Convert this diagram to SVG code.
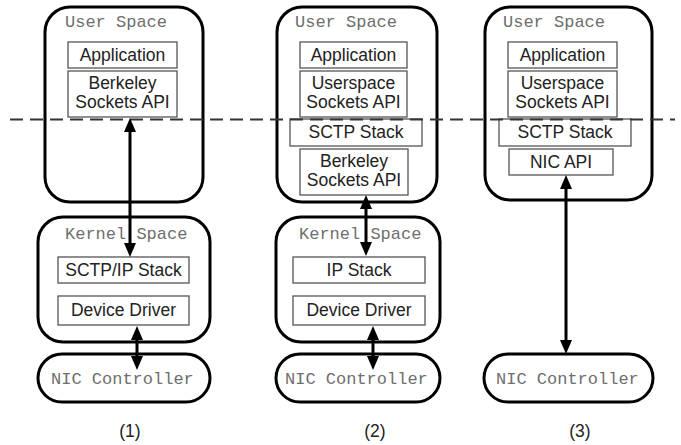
<svg xmlns="http://www.w3.org/2000/svg" width="681" height="445" viewBox="0 0 681 445">
<style>
.outer{fill:#fff;stroke:#000;stroke-width:3}
.inner{fill:#fff;stroke:#555;stroke-width:1.3}
.mono{font-family:"Liberation Mono","Courier New",monospace;font-size:17px;fill:#6e6e6e}
.lbl{font-family:"Liberation Sans",Arial,sans-serif;font-size:17.5px;fill:#222;text-anchor:middle}
.conn{stroke:#000;stroke-width:3;fill:none;marker-start:url(#ah);marker-end:url(#ah)}
.dash{stroke:#333;stroke-width:2;stroke-dasharray:13 7;fill:none}
</style>
<defs>
<marker id="ah" markerUnits="userSpaceOnUse" markerWidth="14" markerHeight="12" refX="4" refY="6" orient="auto-start-reverse" viewBox="0 0 14 12">
<path d="M0,0 L14,6 L0,12 z" fill="#000"/>
</marker>
</defs>
<rect width="681" height="445" fill="#fff"/>

<g id="col1-user">
<rect class="outer" x="45" y="7" width="158" height="195" rx="25"/>
<text class="mono" x="65" y="27">User Space</text>
</g>
<g id="col1-app"><rect class="inner" x="68" y="42" width="109" height="26"/><text class="lbl" x="122.5" y="61">Application</text></g>
<g id="col1-berkeley"><rect class="inner" x="68" y="71" width="109" height="46"/><text class="lbl" x="122.5" y="89">Berkeley</text><text class="lbl" x="122.5" y="108">Sockets API</text></g>
<g id="col1-kernel">
<rect class="outer" x="38" y="217" width="172" height="125" rx="25"/>
<text class="mono" x="65" y="239">Kernel Space</text>
</g>
<g id="col1-sctpip"><rect class="inner" x="58" y="257" width="131" height="26"/><text class="lbl" x="123.5" y="276">SCTP/IP Stack</text></g>
<g id="col1-driver"><rect class="inner" x="58" y="296" width="131" height="29"/><text class="lbl" x="123.5" y="316">Device Driver</text></g>
<g id="col1-nic"><rect class="outer" x="38" y="354" width="172" height="48" rx="24"/><text class="mono" x="51" y="384">NIC Controller</text></g>
<g id="col1-label"><text class="lbl" x="130" y="437">(1)</text></g>

<g id="col2-user">
<rect class="outer" x="277" y="7" width="160" height="195" rx="25"/>
<text class="mono" x="295" y="27">User Space</text>
</g>
<g id="col2-app"><rect class="inner" x="300" y="42" width="107" height="26"/><text class="lbl" x="353.5" y="61">Application</text></g>
<g id="col2-usock"><rect class="inner" x="300" y="71" width="107" height="46"/><text class="lbl" x="353.5" y="89">Userspace</text><text class="lbl" x="353.5" y="108">Sockets API</text></g>
<g id="col2-sctp"><rect class="inner" x="290" y="119" width="132" height="27"/><text class="lbl" x="356" y="138">SCTP Stack</text></g>
<g id="col2-berkeley"><rect class="inner" x="300" y="149" width="108" height="46"/><text class="lbl" x="354" y="167">Berkeley</text><text class="lbl" x="354" y="186">Sockets API</text></g>
<g id="col2-kernel">
<rect class="outer" x="276" y="217" width="164" height="125" rx="25"/>
<text class="mono" x="299" y="239">Kernel Space</text>
</g>
<g id="col2-ip"><rect class="inner" x="293" y="257" width="132" height="26"/><text class="lbl" x="359" y="276">IP Stack</text></g>
<g id="col2-driver"><rect class="inner" x="293" y="296" width="132" height="29"/><text class="lbl" x="359" y="316">Device Driver</text></g>
<g id="col2-nic"><rect class="outer" x="276" y="354" width="164" height="48" rx="24"/><text class="mono" x="285" y="384">NIC Controller</text></g>
<g id="col2-label"><text class="lbl" x="375" y="437">(2)</text></g>

<g id="col3-user">
<rect class="outer" x="485" y="7" width="167" height="193" rx="25"/>
<text class="mono" x="503" y="27">User Space</text>
</g>
<g id="col3-app"><rect class="inner" x="508" y="42" width="109" height="26"/><text class="lbl" x="562.5" y="61">Application</text></g>
<g id="col3-usock"><rect class="inner" x="508" y="71" width="109" height="46"/><text class="lbl" x="562.5" y="89">Userspace</text><text class="lbl" x="562.5" y="108">Sockets API</text></g>
<g id="col3-sctp"><rect class="inner" x="499" y="119" width="132" height="27"/><text class="lbl" x="565" y="138">SCTP Stack</text></g>
<g id="col3-nicapi"><rect class="inner" x="509" y="149" width="104" height="26"/><text class="lbl" x="561" y="168">NIC API</text></g>
<g id="col3-nic"><rect class="outer" x="484" y="354" width="169" height="48" rx="24"/><text class="mono" x="496" y="384">NIC Controller</text></g>
<g id="col3-label"><text class="lbl" x="580" y="437">(3)</text></g>

<g id="boundary"><line class="dash" x1="10" y1="119.5" x2="675" y2="119.5"/></g>

<g id="connectors">
<line class="conn" x1="130" y1="128" x2="130" y2="247"/>
<line class="conn" x1="137" y1="336" x2="137" y2="360"/>
<line class="conn" x1="366" y1="205" x2="366" y2="246"/>
<line class="conn" x1="373" y1="336" x2="373" y2="360"/>
<line class="conn" x1="566" y1="185" x2="566" y2="344"/>
</g>
</svg>
